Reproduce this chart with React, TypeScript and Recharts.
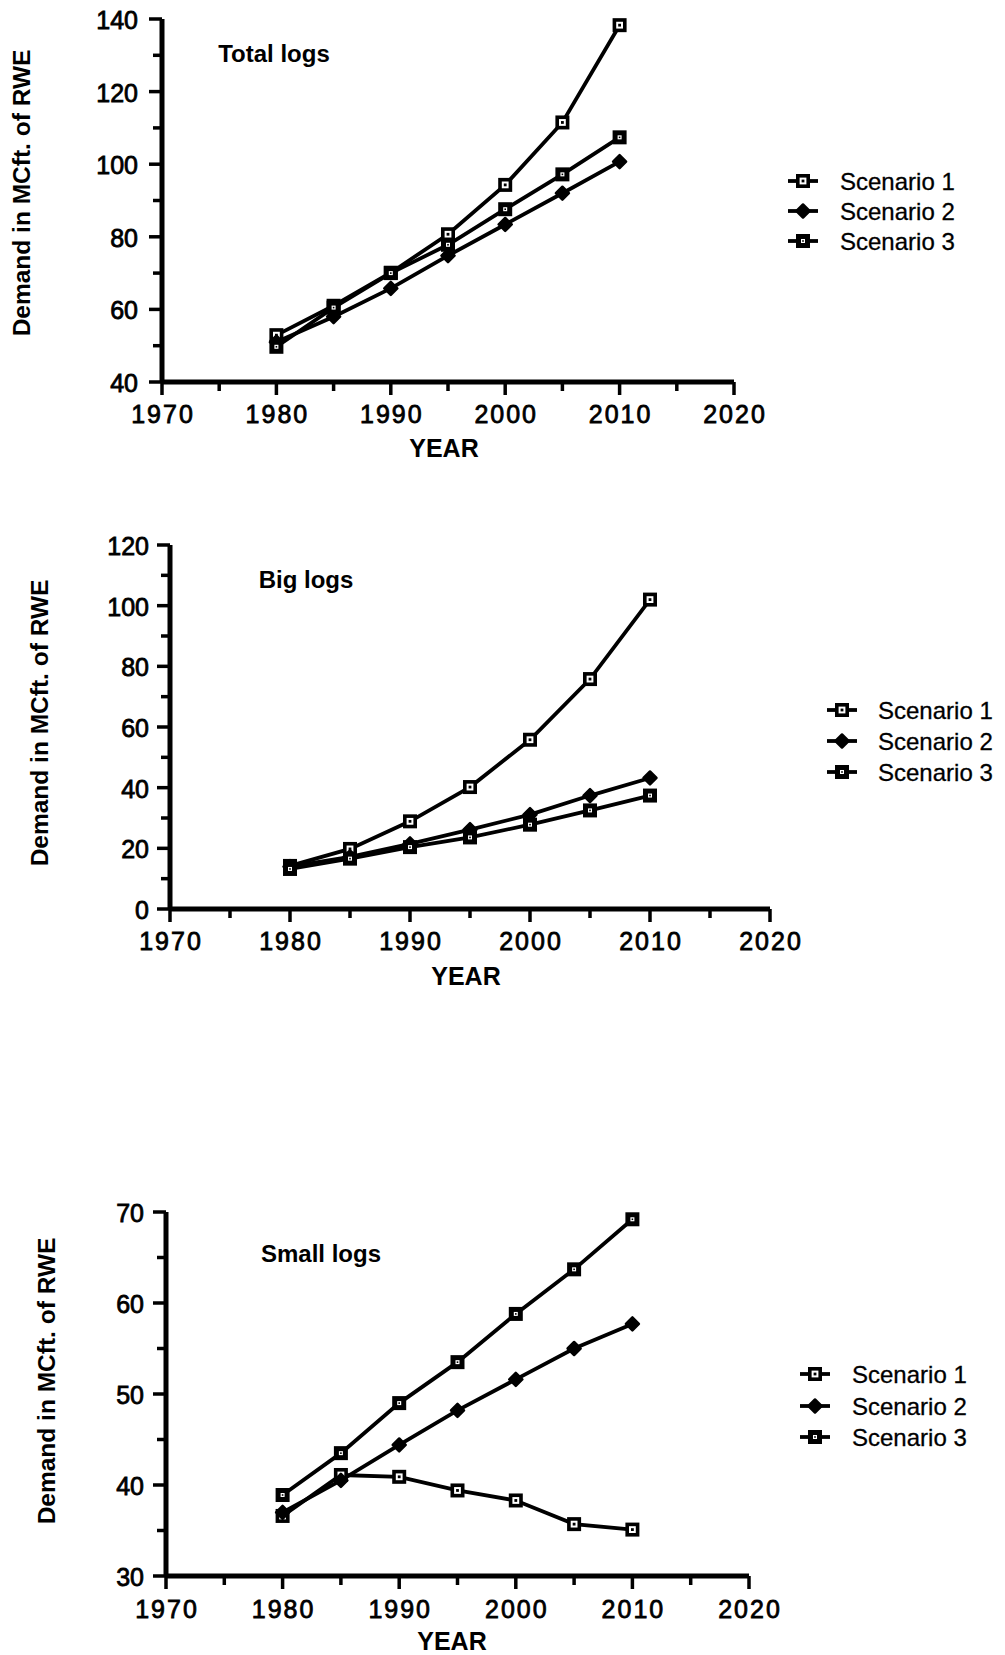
import { LineChart, Line, XAxis, YAxis, Legend, Customized } from 'recharts';

const PAGE_W = 1005;
const Y_AXIS_W = 100;
const X_AXIS_H = 60;
const FONT = '"Liberation Sans", Arial, Helvetica, sans-serif';
const LINE_W = 3.8;

// years with projections and the x-axis tick positions
const years = [1980, 1985, 1990, 1995, 2000, 2005, 2010];
const yearTicks = [1970, 1975, 1980, 1985, 1990, 1995, 2000, 2005, 2010, 2015, 2020];
const yearLabels = [1970, 1980, 1990, 2000, 2010, 2020];

const scenarioNames = ['Scenario 1', 'Scenario 2', 'Scenario 3'];

// Total logs, demand in MCft. of RWE
const totalScenario1 = [52.9, 61.0, 70.1, 80.7, 94.3, 111.5, 138.3];
const totalScenario2 = [51.0, 58.0, 65.8, 74.8, 83.4, 92.0, 100.7];
const totalScenario3 = [49.7, 60.5, 70.0, 77.8, 87.6, 97.2, 107.4];
const totalTicks = [40, 50, 60, 70, 80, 90, 100, 110, 120, 130, 140];
const totalLabels = [40, 60, 80, 100, 120, 140];

// Big logs
const bigScenario1 = [14.2, 19.8, 28.9, 40.2, 55.8, 75.8, 102.0];
const bigScenario2 = [14.0, 17.2, 21.5, 26.2, 31.1, 37.4, 43.2];
const bigScenario3 = [13.2, 16.6, 20.4, 23.6, 27.8, 32.5, 37.4];
const bigTicks = [0, 10, 20, 30, 40, 50, 60, 70, 80, 90, 100, 110, 120];
const bigLabels = [0, 20, 40, 60, 80, 100, 120];

// Small logs
const smallScenario1 = [36.6, 41.1, 40.9, 39.4, 38.3, 35.7, 35.1];
const smallScenario2 = [37.0, 40.5, 44.4, 48.2, 51.6, 55.0, 57.7];
const smallScenario3 = [38.9, 43.5, 49.0, 53.5, 58.8, 63.7, 69.2];
const smallTicks = [30, 35, 40, 45, 50, 55, 60, 65, 70];
const smallLabels = [30, 40, 50, 60, 70];

type MarkerKind = 'open' | 'diamond' | 'solid';
const markerByKey: Record<string, MarkerKind> = { s1: 'open', s2: 'diamond', s3: 'solid' };

const Marker = ({ kind, x, y }: { kind: MarkerKind; x: number; y: number }) => {
  if (kind === 'open') {
    return (
      <g>
        <rect x={x - 5.2} y={y - 5.2} width={10.4} height={10.4} fill="#fff" stroke="#000" strokeWidth={3.6} />
        <rect x={x - 1.4} y={y - 1.4} width={2.8} height={2.8} fill="#000" />
      </g>
    );
  }
  if (kind === 'diamond') {
    return (
      <polygon
        points={`${x},${y - 6.5} ${x + 6.5},${y} ${x},${y + 6.5} ${x - 6.5},${y}`}
        fill="#000"
        stroke="#000"
        strokeWidth={2.5}
        strokeLinejoin="round"
      />
    );
  }
  return (
    <g>
      <rect x={x - 7} y={y - 7} width={14} height={14} fill="#000" />
      <rect x={x - 2} y={y - 2} width={4} height={4} fill="#fff" />
      <rect x={x - 0.8} y={y - 0.8} width={1.6} height={1.6} fill="#000" />
    </g>
  );
};

const makeDot = (kind: MarkerKind) => (props: any) => {
  const { cx, cy, index } = props;
  if (cx == null || cy == null) return <g key={`${kind}-${index}`} />;
  return (
    <g key={`${kind}-${index}`}>
      <Marker kind={kind} x={cx} y={cy} />
    </g>
  );
};

const XTick = ({ x, y, payload, gap }: any) => {
  const major = yearLabels.includes(payload.value);
  return (
    <g>
      <line x1={x} x2={x} y1={y} y2={y + (major ? 13 : 9)} stroke="#000" strokeWidth={3.5} />
      {major && (
        <text
          x={x + 1}
          y={y + gap}
          textAnchor="middle"
          fontFamily={FONT}
          fontSize={25}
          letterSpacing={2}
          fill="#000"
          stroke="#000"
          strokeWidth={0.8}
        >
          {payload.value}
        </text>
      )}
    </g>
  );
};

const YTick = ({ x, y, payload, labels, gap }: any) => {
  const major = labels.includes(payload.value);
  return (
    <g>
      <line x1={x} x2={x - (major ? 13 : 9)} y1={y} y2={y} stroke="#000" strokeWidth={3.5} />
      {major && (
        <text
          x={x - gap}
          y={y + 10}
          textAnchor="end"
          fontFamily={FONT}
          fontSize={25}
          fill="#000"
          stroke="#000"
          strokeWidth={0.8}
        >
          {payload.value}
        </text>
      )}
    </g>
  );
};

interface PanelProps {
  title: string;
  top: number;
  height: number;
  plot: { left: number; right: number; top: number; bottom: number };
  yDomain: [number, number];
  yTicks: number[];
  yLabels: number[];
  series: number[][];
  titlePos: { x: number; y: number };
  yTitlePos: { x: number; y: number };
  yearPos: { x: number; y: number };
  xLabelGap: number;
  yLabelGap: number;
  legend: { markerX: number; textX: number; rows: number[] };
}

const Panel = (p: PanelProps) => {
  const data = years.map((year, i) => ({
    year,
    s1: p.series[0][i],
    s2: p.series[1][i],
    s3: p.series[2][i],
  }));
  const rel = (y: number) => y - p.top;
  const legendLeft = p.legend.markerX - 20;
  const legendTop = rel(p.legend.rows[0]) - 18;

  const renderLegend = (props: any) => {
    const items = props.payload || [];
    return (
      <svg width={200} height={100}>
        {items.map((entry: any, i: number) => {
          const cy = p.legend.rows[i] - p.legend.rows[0] + 18;
          return (
            <g key={entry.value}>
              <line x1={5} x2={35} y1={cy} y2={cy} stroke="#000" strokeWidth={LINE_W} />
              <Marker kind={markerByKey[entry.dataKey]} x={20} y={cy} />
              <text
                x={p.legend.textX - legendLeft}
                y={cy + 8.5}
                fontFamily={FONT}
                fontSize={24}
                fill="#000"
                stroke="#000"
                strokeWidth={0.3}
              >
                {entry.value}
              </text>
            </g>
          );
        })}
      </svg>
    );
  };

  const texts = () => (
    <g fontFamily={FONT} fill="#000">
      <text x={p.titlePos.x} y={rel(p.titlePos.y)} textAnchor="middle" fontSize={24} fontWeight="bold">
        {p.title}
      </text>
      <text x={p.yearPos.x} y={rel(p.yearPos.y)} textAnchor="middle" fontSize={25} fontWeight="bold">
        YEAR
      </text>
      <text
        x={p.yTitlePos.x}
        y={rel(p.yTitlePos.y)}
        transform={`rotate(-90 ${p.yTitlePos.x} ${rel(p.yTitlePos.y)})`}
        textAnchor="middle"
        fontSize={24.5}
        fontWeight="bold"
      >
        Demand in MCft. of RWE
      </text>
    </g>
  );

  return (
    <div style={{ position: 'absolute', left: 0, top: p.top, width: PAGE_W, height: p.height }}>
      <LineChart
        width={PAGE_W}
        height={p.height}
        data={data}
        margin={{
          top: p.plot.top - p.top,
          left: p.plot.left - Y_AXIS_W,
          right: PAGE_W - p.plot.right,
          bottom: p.top + p.height - p.plot.bottom - X_AXIS_H,
        }}
      >
        <XAxis
          dataKey="year"
          type="number"
          domain={[1970, 2020]}
          ticks={yearTicks}
          interval={0}
          height={X_AXIS_H}
          tickSize={0}
          tickMargin={0}
          tickLine={false}
          axisLine={{ stroke: '#000', strokeWidth: 5 }}
          tick={(t: any) => <XTick {...t} gap={p.xLabelGap} />}
        />
        <YAxis
          type="number"
          domain={p.yDomain}
          ticks={p.yTicks}
          interval={0}
          width={Y_AXIS_W}
          tickSize={0}
          tickMargin={0}
          tickLine={false}
          axisLine={{ stroke: '#000', strokeWidth: 5 }}
          tick={(t: any) => <YTick {...t} labels={p.yLabels} gap={p.yLabelGap} />}
        />
        <Line dataKey="s1" name={scenarioNames[0]} type="linear" stroke="#000" strokeWidth={LINE_W} dot={makeDot('open')} activeDot={false} isAnimationActive={false} />
        <Line dataKey="s2" name={scenarioNames[1]} type="linear" stroke="#000" strokeWidth={LINE_W} dot={makeDot('diamond')} activeDot={false} isAnimationActive={false} />
        <Line dataKey="s3" name={scenarioNames[2]} type="linear" stroke="#000" strokeWidth={LINE_W} dot={makeDot('solid')} activeDot={false} isAnimationActive={false} />
        <Legend
          layout="horizontal"
          verticalAlign="middle"
          align="center"
          wrapperStyle={{ left: legendLeft, top: legendTop, width: 200, height: 100 }}
          content={renderLegend}
        />
        <Customized component={texts} />
      </LineChart>
    </div>
  );
}

export default function App() {
  return (
    <div style={{ position: 'absolute', left: 0, top: 0, width: PAGE_W, height: 1655, background: '#fff' }}>
      <Panel
        title="Total logs"
        top={0}
        height={470}
        plot={{ left: 162, right: 734, top: 19, bottom: 382 }}
        yDomain={[40, 140]}
        yTicks={totalTicks}
        yLabels={totalLabels}
        series={[totalScenario1, totalScenario2, totalScenario3]}
        titlePos={{ x: 274, y: 62 }}
        yTitlePos={{ x: 30, y: 193 }}
        yearPos={{ x: 444, y: 457 }}
        xLabelGap={41}
        yLabelGap={24}
        legend={{ markerX: 803, textX: 840, rows: [181, 211, 241] }}
      />
      <Panel
        title="Big logs"
        top={500}
        height={500}
        plot={{ left: 170, right: 770, top: 545, bottom: 909 }}
        yDomain={[0, 120]}
        yTicks={bigTicks}
        yLabels={bigLabels}
        series={[bigScenario1, bigScenario2, bigScenario3]}
        titlePos={{ x: 306, y: 588 }}
        yTitlePos={{ x: 48, y: 723 }}
        yearPos={{ x: 466, y: 985 }}
        xLabelGap={41}
        yLabelGap={21}
        legend={{ markerX: 842, textX: 878, rows: [710, 741, 772] }}
      />
      <Panel
        title="Small logs"
        top={1150}
        height={505}
        plot={{ left: 166, right: 749, top: 1212, bottom: 1576 }}
        yDomain={[30, 70]}
        yTicks={smallTicks}
        yLabels={smallLabels}
        series={[smallScenario1, smallScenario2, smallScenario3]}
        titlePos={{ x: 321, y: 1262 }}
        yTitlePos={{ x: 55, y: 1381 }}
        yearPos={{ x: 452, y: 1650 }}
        xLabelGap={42}
        yLabelGap={22}
        legend={{ markerX: 815, textX: 852, rows: [1374, 1406, 1437] }}
      />
    </div>
  );
}
